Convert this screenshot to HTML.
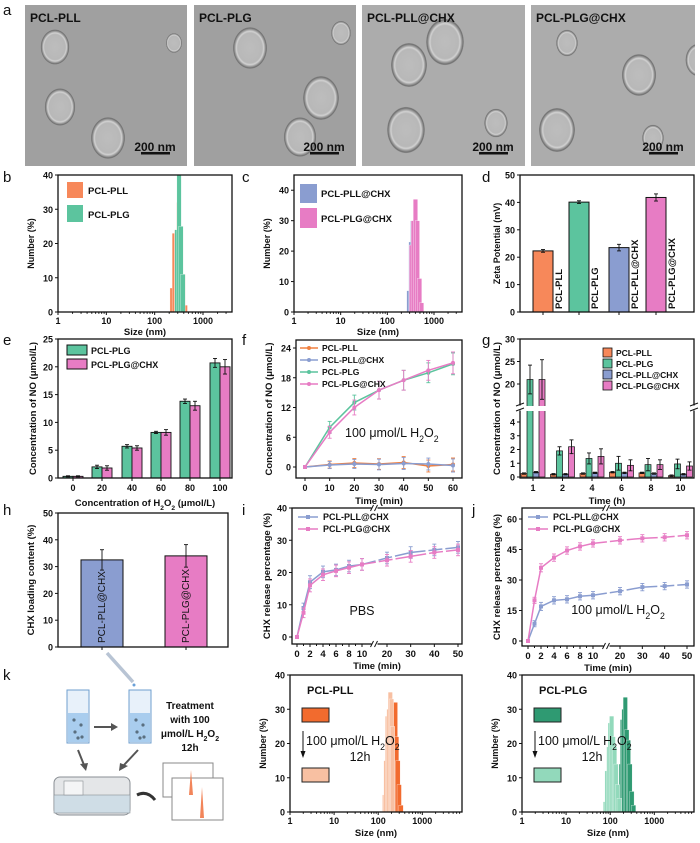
<!DOCTYPE html>
<html><head><meta charset="utf-8">
<style>
html,body{margin:0;padding:0;background:#fff;}
svg{display:block;font-family:"Liberation Sans",sans-serif;}
</style></head>
<body>
<svg id="fig" width="700" height="843" viewBox="0 0 700 843" xmlns="http://www.w3.org/2000/svg">
<defs>
<radialGradient id="ves" cx="50%" cy="50%" r="50%">
<stop offset="0%" stop-color="#bdbdbd"/><stop offset="72%" stop-color="#b8b8b8"/><stop offset="80%" stop-color="#d2d2d2"/><stop offset="87%" stop-color="#a5a5a5"/><stop offset="96%" stop-color="#6e6e6e"/><stop offset="100%" stop-color="#999"/>
</radialGradient>
</defs>
</svg>
<script>
// ---------- data ----------
const dlsB_PLL_size=[230,255,285,315,350,390,430];
const dlsB_PLL_val=[7,23,24,32,24,11,2];
const dlsB_PLG_size=[290,320,350,385];
const dlsB_PLG_val=[24,40,25,11];
const dlsC_PLLCHX_size=[290,320,350,390,430,480,530];
const dlsC_PLLCHX_val=[7,23,30,28,11,3,1];
const dlsC_PLGCHX_size=[330,360,400,440,490,540];
const dlsC_PLGCHX_val=[22,30,37,30,11,3];
const zetaLabels=['PCL-PLL','PCL-PLG','PCL-PLL@CHX','PCL-PLG@CHX'];
const zetaVals=[22.3,40.1,23.5,41.8];
const zetaErr=[0.5,0.5,1.2,1.3];
const eCats=[0,20,40,60,80,100];
const ePLG=[0.3,2.0,5.7,8.2,13.8,20.7];
const ePLGerr=[0.1,0.3,0.3,0.2,0.4,0.8];
const ePLGCHX=[0.3,1.8,5.4,8.2,13.0,20.0];
const ePLGCHXerr=[0.1,0.4,0.4,0.5,0.8,1.3];
const fTime=[0,10,20,30,40,50,60];
const fPLL=[0,0.5,0.8,0.6,0.9,0.2,0.5];
const fPLLCHX=[0,0.4,0.6,0.5,0.7,0.6,0.3];
const fPLG=[0,8.0,13.0,15.5,17.5,19.0,20.8];
const fPLGCHX=[0,7.0,12.0,15.5,17.5,19.5,21.0];
const fErr=[0.3,1.2,1.5,1.8,2.0,2.0,2.2];
const gTimes=[1,2,4,6,8,10];
const gPLL=[0.25,0.2,0.25,0.35,0.3,0.1];
const gPLG=[21,1.9,1.35,1.0,0.9,0.95];
const gPLLCHX=[0.35,0.2,0.3,0.3,0.25,0.2];
const gPLGCHX=[21,2.2,1.5,0.85,0.9,0.8];
const gErrPLG=[3.2,0.3,0.4,0.5,0.45,0.35];
const gErrPLGCHX=[4.4,0.5,0.55,0.4,0.35,0.3];
const hLabels=['PCL-PLL@CHX','PCL-PLG@CHX'];
const hVals=[32.5,34.0];
const hErr=[3.8,4.2];
const relTime=[0,1,2,4,6,8,10,20,30,40,50];
const iPLLCHX=[0,9,17,20.2,20.8,22,22.5,24.5,26.2,27,27.8];
const iPLGCHX=[0,7.5,16,19.3,20.5,21.5,22.5,23.8,25,26.2,27];
const jPLLCHX=[0,8.5,17,20,20.5,22,22.5,24.5,26.5,27,27.8];
const jPLGCHX=[0,20,36,41,44.5,46.5,48,49.5,50.5,51,52];
const relErr=[0.3,1.5,2,1.8,1.8,1.8,1.8,1.8,1.8,1.8,1.8];
const kPLL_before_size=[215,230,245,262,280,300,330];
const kPLL_before_val=[25,31,32,22,15,8,2];
const kPLL_after_size=[140,150,162,175,188,200,212];
const kPLL_after_val=[5,15,28,30,35,33,25];
const kPLG_before_size=[165,178,190,205,220,238,258,280,310,340];
const kPLG_before_val=[8,14,27,30,33.5,24,21,14,6,2];
const kPLG_after_size=[78,85,93,100,108,117,126,136,147,160];
const kPLG_after_val=[3,12,19,26,28,22,19,14,8,4];
const sizeTicks=[1,10,100,1000];

// ---------- helpers ----------
const NS='http://www.w3.org/2000/svg';
const svg=document.getElementById('fig');
function el(tag,attrs,name,parent){
  const e=document.createElementNS(NS,tag);
  for(const k in attrs)e.setAttribute(k,attrs[k]);
  
  
  (parent||svg).appendChild(e);return e;
}
function txt(x,y,s,o,name){
  o=o||{};
  const t=el('text',{x:x,y:y,'font-size':o.fs||9,'font-weight':o.fw||'bold','text-anchor':o.anchor||'start',fill:o.fill||'#111'},name);
  if(o.rot!==undefined)t.setAttribute('transform','rotate('+o.rot+' '+x+' '+y+')');
  t.innerHTML=s;return t;
}
const H2O2='H<tspan baseline-shift="sub" font-size="70%">2</tspan>O<tspan baseline-shift="sub" font-size="70%">2</tspan>';
function lin(d0,d1,p0,p1){return v=>p0+(v-d0)/(d1-d0)*(p1-p0);}
function line(x1,y1,x2,y2,name,c,w){return el('line',{x1:x1,y1:y1,x2:x2,y2:y2,stroke:c||'#111','stroke-width':w||1},name);}
function frame(x0,y0,x1,y1,name){return el('rect',{x:x0,y:y0,width:x1-x0,height:y1-y0,fill:'none',stroke:'#111','stroke-width':1.3},name);}
function yTicks(x0,sy,ticks,name){ticks.forEach(t=>{line(x0-3,sy(t),x0,sy(t),name+'-tick');txt(x0-5,sy(t)+3.5,String(t),{anchor:'end'},name+'-label');});}
function xTicks(y1,sx,ticks,name,labels){ticks.forEach((t,i)=>{line(sx(t),y1,sx(t),y1+3,name+'-tick');txt(sx(t),y1+13,labels?labels[i]:String(t),{anchor:'middle'},name+'-label');});}
function logAxis(x0,x1,y1,name,dec){
  const sx=v=>x0+Math.log10(v)/dec*(x1-x0);
  for(let d=0;d<4;d++)for(let m=1;m<10;m++){const v=m*Math.pow(10,d);const x=sx(v);if(x>x1)continue;line(x,y1,x,y1+(m===1?3:1.8),name+'-minor-tick');}
  sizeTicks.forEach(t=>txt(sx(t),y1+12,String(t),{anchor:'middle'},name+'-label'));
  return sx;
}
function hist(sx,sy,sizes,vals,color,name){sizes.forEach((s,i)=>{const x=sx(s);el('rect',{x:x-2.2,y:sy(vals[i]),width:4.4,height:sy(0)-sy(vals[i]),fill:color,stroke:'#fff','stroke-width':0.3},name);});}
function errbar(x,y1,y2,name,c){line(x,y1,x,y2,name,c||'#111',0.9);line(x-2,y1,x+2,y1,name,c||'#111',0.9);line(x-2,y2,x+2,y2,name,c||'#111',0.9);}
function plabel(x,y,s){txt(x,y,s,{fs:15,fw:'normal'},'panel-label-'+s);}
const OR='#f7885a',GR='#5cc49e',BL='#8a9dd0',PK='#e77cc4';

// ---------- panel a: TEM ----------
plabel(3,15,'a');
const temX=[[25,187],[194,356],[362,525],[531,695]];
const temT=['PCL-PLL','PCL-PLG','PCL-PLL@CHX','PCL-PLG@CHX'];
const ves=[[[55,47,16],[60,107,17],[108,138,19],[174,43,9]],[[250,48,19],[321,98,20],[300,137,18],[341,33,11]],[[409,65,20],[445,42,21],[406,130,21],[496,123,13]],[[567,43,12],[639,75,19],[557,130,20],[653,138,12],[699,60,15]]];
temX.forEach((p,i)=>{
  const g=el('g',{},'tem-image-'+(i+1));
  const cp=el('clipPath',{id:'cp'+i},'tem-clip',g);
  el('rect',{x:p[0],y:5,width:p[1]-p[0],height:161},'tem-clip-rect',cp);
  el('rect',{x:p[0],y:5,width:p[1]-p[0],height:161,fill:i<2?'#a0a0a0':'#acacac'},'tem-background',g);
  const cg=el('g',{'clip-path':'url(#cp'+i+')'},'vesicles',g);
  ves[i].forEach(v=>el('ellipse',{cx:v[0],cy:v[1],rx:v[2]*0.9,ry:v[2]*1.1,fill:'url(#ves)'},'vesicle',cg));
  txt(p[0]+5,22,temT[i],{fs:12,fill:'#111'},'tem-title');
  txt(p[1]-32,151,'200 nm',{fs:12,anchor:'middle'},'scale-bar-label');
  el('rect',{x:p[1]-46,y:152,width:29,height:2.5,fill:'#111'},'scale-bar');
});

// ---------- panel b ----------
plabel(3,182,'b');
(function(){
  const x0=58,x1=232,y0=175,y1=312;
  const sy=lin(0,40,y1,y0);
  const sx=logAxis(x0,x1,y1,'b-x-axis',3.6);
  hist(sx,sy,dlsB_PLL_size,dlsB_PLL_val,OR,'b-bar-pcl-pll');
  hist(sx,sy,dlsB_PLG_size,dlsB_PLG_val,GR,'b-bar-pcl-plg');
  frame(x0,y0,x1,y1,'b-frame');
  yTicks(x0,sy,[0,10,20,30,40],'b-y-axis');
  txt(x0-24,(y0+y1)/2,'Number (%)',{anchor:'middle',rot:-90},'b-y-axis-title');
  txt((x0+x1)/2,335,'Size (nm)',{anchor:'middle',fs:9.5},'b-x-axis-title');
  el('rect',{x:67,y:182,width:16,height:16,fill:OR},'b-legend-swatch-pll');txt(88,194,'PCL-PLL',{fs:9.5},'b-legend-label');
  el('rect',{x:67,y:205,width:16,height:17,fill:GR},'b-legend-swatch-plg');txt(88,218,'PCL-PLG',{fs:9.5},'b-legend-label');
})();

// ---------- panel c ----------
plabel(242,182,'c');
(function(){
  const x0=294,x1=462,y0=175,y1=312;
  const sy=lin(0,45,y1,y0);
  const sx=logAxis(x0,x1,y1,'c-x-axis',3.6);
  hist(sx,sy,dlsC_PLLCHX_size,dlsC_PLLCHX_val,BL,'c-bar-pcl-pll-chx');
  hist(sx,sy,dlsC_PLGCHX_size,dlsC_PLGCHX_val,PK,'c-bar-pcl-plg-chx');
  frame(x0,y0,x1,y1,'c-frame');
  yTicks(x0,sy,[0,10,20,30,40],'c-y-axis');
  txt(x0-24,(y0+y1)/2,'Number (%)',{anchor:'middle',rot:-90},'c-y-axis-title');
  txt((x0+x1)/2,335,'Size (nm)',{anchor:'middle',fs:9.5},'c-x-axis-title');
  el('rect',{x:300,y:184,width:17,height:19,fill:BL},'c-legend-swatch');txt(321,197,'PCL-PLL@CHX',{fs:9.5},'c-legend-label');
  el('rect',{x:300,y:208,width:17,height:20,fill:PK},'c-legend-swatch');txt(321,222,'PCL-PLG@CHX',{fs:9.5},'c-legend-label');
})();

// ---------- panel d ----------
plabel(482,182,'d');
(function(){
  const x0=520,x1=694,y0=175,y1=312;
  const sy=lin(0,50,y1,y0);
  const cols=[OR,GR,BL,PK];const cx=[543,579,619,656];
  zetaVals.forEach((v,i)=>{
    el('rect',{x:cx[i]-10,y:sy(v),width:20,height:sy(0)-sy(v),fill:cols[i],stroke:'#111','stroke-width':1},'d-bar-'+i);
    errbar(cx[i],sy(v+zetaErr[i]),sy(v-zetaErr[i]),'d-error-bar');
    txt(cx[i]+19,y1-3,zetaLabels[i],{fs:9.5,rot:-90},'d-bar-label');
    line(cx[i],y1,cx[i],y1+3,'d-x-tick');
  });
  frame(x0,y0,x1,y1,'d-frame');
  yTicks(x0,sy,[0,10,20,30,40,50],'d-y-axis');
  txt(x0-20,(y0+y1)/2,'Zeta Potential (mV)',{anchor:'middle',rot:-90},'d-y-axis-title');
})();

// ---------- panel e ----------
plabel(3,345,'e');
(function(){
  const x0=58,x1=232,y0=339,y1=478;
  const sy=lin(0,25,y1,y0);
  const cx=[73,102,132,161,190,220];
  eCats.forEach((c,i)=>{
    el('rect',{x:cx[i]-10,y:sy(ePLG[i]),width:10,height:sy(0)-sy(ePLG[i]),fill:GR,stroke:'#111','stroke-width':0.9},'e-bar-plg');
    el('rect',{x:cx[i],y:sy(ePLGCHX[i]),width:10,height:sy(0)-sy(ePLGCHX[i]),fill:PK,stroke:'#111','stroke-width':0.9},'e-bar-plg-chx');
    errbar(cx[i]-5,sy(ePLG[i]+ePLGerr[i]),sy(ePLG[i]-ePLGerr[i]),'e-error-bar');
    errbar(cx[i]+5,sy(ePLGCHX[i]+ePLGCHXerr[i]),sy(ePLGCHX[i]-ePLGCHXerr[i]),'e-error-bar');
    line(cx[i],y1,cx[i],y1+3,'e-x-tick');
    txt(cx[i],y1+13,String(c),{anchor:'middle'},'e-x-label');
  });
  frame(x0,y0,x1,y1,'e-frame');
  yTicks(x0,sy,[0,5,10,15,20,25],'e-y-axis');
  txt(x0-22,(y0+y1)/2,'Concentration of NO (μmol/L)',{anchor:'middle',rot:-90,fs:9.5},'e-y-axis-title');
  txt((x0+x1)/2,506,'Concentration of '+H2O2+' (μmol/L)',{anchor:'middle',fs:9.5},'e-x-axis-title');
  el('rect',{x:67,y:345,width:20,height:10,fill:GR,stroke:'#111'},'e-legend-swatch');txt(91,354,'PCL-PLG',{fs:9},'e-legend-label');
  el('rect',{x:67,y:359,width:20,height:10,fill:PK,stroke:'#111'},'e-legend-swatch');txt(91,368,'PCL-PLG@CHX',{fs:9},'e-legend-label');
})();

// ---------- panel f ----------
plabel(242,345,'f');
(function(){
  const x0=296,x1=462,y0=340,y1=478;
  const sy=lin(0,24,467,348);const sx=lin(0,60,305,453);
  const series=[[fPLL,'#f08040','s'],[fPLLCHX,BL,'c'],[fPLG,GR,'t'],[fPLGCHX,PK,'v']];
  series.forEach((s,si)=>{
    const d=s[0];
    el('polyline',{points:fTime.map((t,i)=>sx(t)+','+sy(d[i])).join(' '),fill:'none',stroke:s[1],'stroke-width':1.5},'f-line-'+si);
    fTime.forEach((t,i)=>{const e=si<2?fErr[i]*0.6:fErr[i];errbar(sx(t),sy(d[i]+e),sy(d[i]-e),'f-error-bar',s[1]);
      el('circle',{cx:sx(t),cy:sy(d[i]),r:2,fill:s[1]},'f-point');});
  });
  frame(x0,y0,x1,y1,'f-frame');
  yTicks(x0,sy,[0,6,12,18,24],'f-y-axis');
  xTicks(y1,sx,fTime,'f-x-axis');
  txt(x0-24,(y0+y1)/2,'Concentration of NO (μmol/L)',{anchor:'middle',rot:-90,fs:9.5},'f-y-axis-title');
  txt((x0+x1)/2,504,'Time (min)',{anchor:'middle',fs:9.5},'f-x-axis-title');
  txt(345,437,'100 μmol/L '+H2O2,{fs:12.5,fw:'normal'},'f-annotation');
  const ly=[348,360,372,384],ln=['PCL-PLL','PCL-PLL@CHX','PCL-PLG','PCL-PLG@CHX'];
  series.forEach((s,i)=>{line(300,ly[i],318,ly[i],'f-legend-line',s[1],1.5);el('circle',{cx:309,cy:ly[i],r:2,fill:s[1]},'f-legend-marker');txt(322,ly[i]+3,ln[i],{fs:8.5},'f-legend-label');});
})();

// ---------- panel g ----------
plabel(482,345,'g');
(function(){
  const x0=520,x1=694,y0=339,y1=478;
  const syL=lin(0,4,477,422), syU=lin(20,30,384,339);
  const sy=v=>v<=4.7?syL(v):(v<14?410:syU(Math.max(v,14.5)));
  const cols=[OR,GR,BL,PK];const sets=[gPLL,gPLG,gPLLCHX,gPLGCHX];const errs=[null,gErrPLG,null,gErrPLGCHX];
  gTimes.forEach((t,i)=>{
    const c=533+i*29.5;
    sets.forEach((s,k)=>{const x=c-12+k*6;
      el('rect',{x:x,y:sy(s[i]),width:6,height:477-sy(s[i]),fill:cols[k],stroke:'#111','stroke-width':0.7},'g-bar');
      const e=errs[k]?errs[k][i]:0.05;errbar(x+3,sy(s[i]+e),sy(Math.max(s[i]-e,0)),'g-error-bar');});
    line(c,y1,c,y1+3,'g-x-tick');txt(c,y1+13,String(t),{anchor:'middle'},'g-x-label');
  });
  el('rect',{x:x0-4,y:406,width:x1-x0+10,height:5,fill:'#fff'},'g-axis-break-gap');
  frame(x0,y0,x1,y1,'g-frame');
  el('rect',{x:x0-3,y:405.5,width:6,height:5,fill:'#fff'},'g-break-left');
  el('rect',{x:x1-3,y:405.5,width:6,height:5,fill:'#fff'},'g-break-right');
  line(x0-4,406,x0+4,403,'g-break-mark');line(x0-4,411,x0+4,408,'g-break-mark');
  line(x1-4,406,x1+4,403,'g-break-mark');line(x1-4,411,x1+4,408,'g-break-mark');
  [0,1,2,3,4].forEach(t=>{line(x0-3,syL(t),x0,syL(t),'g-y-tick');txt(x0-5,syL(t)+3.5,String(t),{anchor:'end'},'g-y-label');});
  [20,25,30].forEach(t=>{line(x0-3,syU(t),x0,syU(t),'g-y-tick');txt(x0-5,syU(t)+3.5,String(t),{anchor:'end'},'g-y-label');});
  txt(x0-20,(y0+y1)/2,'Concentration of NO (μmol/L)',{anchor:'middle',rot:-90,fs:9.5},'g-y-axis-title');
  txt((x0+x1)/2,504,'Time (h)',{anchor:'middle',fs:9.5},'g-x-axis-title');
  const ly=[348,359,370,381],ln=['PCL-PLL','PCL-PLG','PCL-PLL@CHX','PCL-PLG@CHX'];
  cols.forEach((c,i)=>{el('rect',{x:603,y:ly[i],width:9,height:9,fill:c,stroke:'#111','stroke-width':0.8},'g-legend-swatch');txt(616,ly[i]+8,ln[i],{fs:8.5},'g-legend-label');});
})();

// ---------- panel h ----------
plabel(3,515,'h');
(function(){
  const x0=58,x1=228,y0=513,y1=647;
  const sy=lin(0,50,y1,y0);const cx=[102,186];const cols=[BL,PK];
  hVals.forEach((v,i)=>{
    el('rect',{x:cx[i]-21,y:sy(v),width:42,height:y1-sy(v),fill:cols[i],stroke:'#111','stroke-width':1},'h-bar-'+i);
    errbar(cx[i],sy(v+hErr[i]),sy(v-hErr[i]),'h-error-bar');
    txt(cx[i]+3,y1-4,hLabels[i],{fs:10,fw:'normal',rot:-90},'h-bar-label');
    line(cx[i],y1,cx[i],y1+3,'h-x-tick');
  });
  frame(x0,y0,x1,y1,'h-frame');
  yTicks(x0,sy,[0,10,20,30,40,50],'h-y-axis');
  txt(x0-24,(y0+y1)/2,'CHX loading content (%)',{anchor:'middle',rot:-90,fs:9.5},'h-y-axis-title');
})();

// ---------- panels i & j ----------
function releasePanel(letter,x0,x1,y0,y1,yMax,yT,y0px,yTopPx,yTopVal,tx0,tx10,tx20,tx50,sA,sB,note){
  plabel(x0-50,515,letter);
  const sy=lin(0,yTopVal,y0px,yTopPx);
  const sx=t=>t<=10?tx0+(tx10-tx0)*t/10:tx20+(tx50-tx20)*(t-20)/30;
  [[sA,BL,'pll-chx'],[sB,PK,'plg-chx']].forEach(s=>{
    const d=s[0];
    el('polyline',{points:relTime.slice(0,7).map((t,i)=>sx(t)+','+sy(d[i])).join(' '),fill:'none',stroke:s[1],'stroke-width':1.5},letter+'-line-'+s[2]);
    el('polyline',{points:relTime.slice(6).map((t,i)=>sx(t)+','+sy(d[i+6])).join(' '),fill:'none',stroke:s[1],'stroke-width':1.5,'stroke-dasharray':'14 3'},letter+'-line-'+s[2]);
    relTime.forEach((t,i)=>{errbar(sx(t),sy(d[i]+relErr[i]),sy(d[i]-relErr[i]),letter+'-error-bar',s[1]);
      el('rect',{x:sx(t)-2,y:sy(d[i])-2,width:4,height:4,fill:s[1]},letter+'-point');});
  });
  frame(x0,y0,x1,y1,letter+'-frame');
  const bx=(tx10+tx20)/2;
  el('rect',{x:bx-3,y:y0-2,width:6,height:4,fill:'#fff'},letter+'-break-gap');
  el('rect',{x:bx-3,y:y1-2,width:6,height:4,fill:'#fff'},letter+'-break-gap');
  [y0,y1].forEach(y=>{line(bx-4,y+3,bx-1,y-3,letter+'-break-mark');line(bx,y+3,bx+3,y-3,letter+'-break-mark');});
  yTicks(x0,sy,yT,letter+'-y-axis');
  const xt=[0,2,4,6,8,10,20,30,40,50];
  xt.forEach(t=>{line(sx(t),y1,sx(t),y1+3,letter+'-x-tick');txt(sx(t),y1+13,String(t),{anchor:'middle',fs:9.5},letter+'-x-label');});
  [1,3,5,7,9].forEach(t=>line(sx(t),y1,sx(t),y1+2,letter+'-x-minor-tick'));
  txt(x0-22,(y0+y1)/2,'CHX release percentage (%)',{anchor:'middle',rot:-90,fs:9.5},letter+'-y-axis-title');
  txt((x0+x1)/2,y1+25,'Time (min)',{anchor:'middle',fs:9.5},letter+'-x-axis-title');
  const lx=x0+6;
  line(lx,517,lx+20,517,letter+'-legend-line',BL,1.5);el('rect',{x:lx+8,y:515,width:4,height:4,fill:BL},letter+'-legend-marker');txt(lx+25,520,'PCL-PLL@CHX',{fs:9},letter+'-legend-label');
  line(lx,529,lx+20,529,letter+'-legend-line',PK,1.5);el('rect',{x:lx+8,y:527,width:4,height:4,fill:PK},letter+'-legend-marker');txt(lx+25,532,'PCL-PLG@CHX',{fs:9},letter+'-legend-label');
  txt(note[0],note[1],note[2],{fs:12.5,fw:'normal',anchor:'middle'},letter+'-annotation');
}
releasePanel('i',292,462,508,644,40,[0,10,20,30,40],637,508,40,297,362,387,458,iPLLCHX,iPLGCHX,[362,615,'PBS']);
releasePanel('j',522,694,508,646,60,[0,15,30,45,60],641,519,60,528,593,620,687,jPLLCHX,jPLGCHX,[618,614,'100 μmol/L '+H2O2]);

// ---------- panel k illustration ----------
plabel(3,680,'k');
(function(){
  const g=el('g',{},'k-illustration');
  line(107,653,133,682,'pipette','#b8c4d4',3.5);
  el('circle',{cx:134,cy:685,r:1.5,fill:'#6aa0d8'},'pipette-drop',g);
  [[67,'cuvette-1'],[129,'cuvette-2']].forEach(c=>{
    el('rect',{x:c[0],y:690,width:22,height:53,fill:'#e8f1fa',stroke:'#6f9fcf','stroke-width':1},c[1],g);
    el('rect',{x:c[0]+1,y:713,width:20,height:29,fill:'#a9cdee'},c[1]+'-liquid',g);
    [[7,720],[14,725],[8,732],[15,737],[11,738]].forEach(p=>el('circle',{cx:c[0]+p[0],cy:p[1],r:1.6,fill:'#5a6f80'},'particle',g));
  });
  line(94,727,112,727,'arrow-shaft','#555',2);el('polygon',{points:'118,727 111,723 111,731',fill:'#555'},'arrow-head',g);
  line(78,750,84,765,'arrow-shaft','#555',2);el('polygon',{points:'86,771 80,764 88,763',fill:'#555'},'arrow-head',g);
  line(138,750,124,765,'arrow-shaft','#555',2);el('polygon',{points:'119,771 120,763 128,766',fill:'#555'},'arrow-head',g);
  el('rect',{x:54,y:777,width:76,height:38,rx:6,fill:'#e4e6e8',stroke:'#8a8f94'},'dls-instrument',g);
  el('rect',{x:54,y:795,width:76,height:18,fill:'#cfdde6',stroke:'#8a8f94','stroke-width':0.6},'dls-instrument-front',g);
  el('rect',{x:64,y:781,width:19,height:14,fill:'#f4f5f6',stroke:'#8a8f94','stroke-width':0.6},'dls-instrument-lid',g);
  el('path',{d:'M137 795 Q147 790 155 800',fill:'none',stroke:'#333','stroke-width':3},'output-arrow',g);
  el('rect',{x:163,y:763,width:50,height:34,fill:'#fff',stroke:'#888'},'spectrum-box-1',g);
  el('rect',{x:172,y:778,width:51,height:42,fill:'#fff',stroke:'#888'},'spectrum-box-2',g);
  el('polygon',{points:'189,795 191,770 193,795',fill:'#f2855a'},'spectrum-peak-1',g);
  el('polygon',{points:'200,818 202,787 204,818',fill:'#f2855a'},'spectrum-peak-2',g);
  ['Treatment','with 100','μmol/L '+H2O2,'12h'].forEach((s,i)=>txt(190,709+i*14,s,{fs:10,anchor:'middle'},'k-treatment-text'));
})();

// ---------- panel k DLS plots ----------
function kPlot(x0,x1,title,bs,bv,as,av,cDark,cLight,nm){
  const y0=675,y1=812;
  const sy=lin(0,40,y1,y0);
  const sx=logAxis(x0,x1,y1,nm+'-x-axis',3.9);
  hist(sx,sy,bs,bv,cDark,nm+'-bar-before');
  hist(sx,sy,as,av,cLight,nm+'-bar-after');
  frame(x0,y0,x1,y1,nm+'-frame');
  yTicks(x0,sy,[0,10,20,30,40],nm+'-y-axis');
  txt(x0-24,(y0+y1)/2,'Number (%)',{anchor:'middle',rot:-90},nm+'-y-axis-title');
  txt((x0+x1)/2,836,'Size (nm)',{anchor:'middle',fs:9.5},nm+'-x-axis-title');
  txt(x0+17,694,title,{fs:11},nm+'-title');
  el('rect',{x:x0+12,y:708,width:27,height:14,fill:cDark,stroke:'#222'},nm+'-legend-before');
  el('rect',{x:x0+12,y:768,width:27,height:14,fill:cLight,stroke:'#222'},nm+'-legend-after');
  line(x0+13,731,x0+13,754,nm+'-legend-arrow');
  el('polygon',{points:(x0+13)+',758 '+(x0+10.5)+',751 '+(x0+15.5)+',751',fill:'#111'},nm+'-legend-arrow-head');
  txt(x0+16,745,'100 μmol/L '+H2O2,{fs:12.5,fw:'normal'},nm+'-legend-text');
  txt(x0+70,761,'12h',{fs:12.5,fw:'normal',anchor:'middle'},nm+'-legend-text');
}
kPlot(290,462,'PCL-PLL',kPLL_before_size,kPLL_before_val,kPLL_after_size,kPLL_after_val,'#f26b2e','#f8c0a2','k-pll');
kPlot(522,694,'PCL-PLG',kPLG_before_size,kPLG_before_val,kPLG_after_size,kPLG_after_val,'#2f9a72','#92d9bb','k-plg');
</script>
</body></html>
